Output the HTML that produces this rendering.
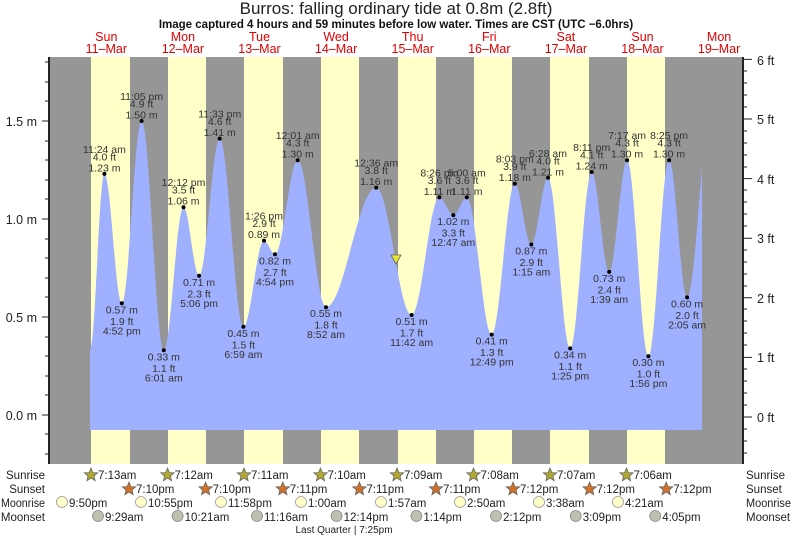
<!DOCTYPE html>
<html><head><meta charset="utf-8"><style>
html,body{margin:0;padding:0;background:#fff;}
svg{display:block;font-family:"Liberation Sans",sans-serif;}
.l{font-size:10.5px;fill:#333;text-anchor:middle;}
.d{font-size:12.5px;fill:#e00000;text-anchor:middle;}
.a{font-size:12.5px;fill:#222;}
.b{font-size:11.5px;fill:#222;}
</style></head><body>
<svg width="793" height="538" viewBox="0 0 793 538">
<text x="396" y="14" text-anchor="middle" font-size="17" fill="#222">Burros: falling  ordinary tide at 0.8m (2.8ft)</text>
<text x="396" y="28" text-anchor="middle" font-size="11.5" font-weight="bold" fill="#111">Image captured 4 hours and 59 minutes before low water. Times are CST (UTC −6.0hrs)</text>
<g>
<text class="d" x="106.3" y="41">Sun</text><text class="d" x="106.3" y="53">11–Mar</text>
<text class="d" x="182.9" y="41">Mon</text><text class="d" x="182.9" y="53">12–Mar</text>
<text class="d" x="259.5" y="41">Tue</text><text class="d" x="259.5" y="53">13–Mar</text>
<text class="d" x="336.1" y="41">Wed</text><text class="d" x="336.1" y="53">14–Mar</text>
<text class="d" x="412.7" y="41">Thu</text><text class="d" x="412.7" y="53">15–Mar</text>
<text class="d" x="489.3" y="41">Fri</text><text class="d" x="489.3" y="53">16–Mar</text>
<text class="d" x="565.9" y="41">Sat</text><text class="d" x="565.9" y="53">17–Mar</text>
<text class="d" x="642.5" y="41">Sun</text><text class="d" x="642.5" y="53">18–Mar</text>
<text class="d" x="719.1" y="41">Mon</text><text class="d" x="719.1" y="53">19–Mar</text>
</g>
<rect x="50" y="57" width="693" height="407" fill="#969696"/>
<g fill="#ffffc8">
<rect x="91" y="57" width="39" height="407"/>
<rect x="168" y="57" width="38" height="407"/>
<rect x="244" y="57" width="39" height="407"/>
<rect x="321" y="57" width="38" height="407"/>
<rect x="398" y="57" width="38" height="407"/>
<rect x="474" y="57" width="38" height="407"/>
<rect x="550" y="57" width="39" height="407"/>
<rect x="627" y="57" width="38" height="407"/>
</g>
<path fill="#9fb0ff" d="M90,430 L90,350 C95.2,350 99.2,173.9 104.4,173.9 C110.7,173.9 115.5,303.3 121.8,303.3 C128.9,303.3 134.5,121 141.6,121 C149.6,121 155.8,350.3 163.8,350.3 C170.9,350.3 176.4,207.2 183.5,207.2 C189.1,207.2 193.5,275.8 199.1,275.8 C206.5,275.8 212.3,138.6 219.7,138.6 C228.2,138.6 234.9,326.8 243.4,326.8 C250.8,326.8 256.6,240.6 264,240.6 C268,240.6 271,254.3 275,254.3 C283.2,254.3 289.5,160.2 297.7,160.2 C307.9,160.2 315.8,307.2 326,307.2 C344.1,307.2 358.1,187.6 376.2,187.6 C388.9,187.6 398.9,315 411.6,315 C421.6,315 429.4,197.4 439.4,197.4 C444.4,197.4 448.3,215.1 453.3,215.1 C458.2,215.1 461.9,197.4 466.8,197.4 C475.8,197.4 482.7,334.6 491.7,334.6 C500,334.6 506.5,183.7 514.8,183.7 C520.7,183.7 525.4,244.5 531.3,244.5 C537.3,244.5 542,177.8 548,177.8 C556,177.8 562.2,348.4 570.2,348.4 C577.9,348.4 584,172 591.7,172 C598,172 602.9,271.9 609.2,271.9 C615.6,271.9 620.7,160.2 627.1,160.2 C634.8,160.2 640.7,356.2 648.4,356.2 C655.9,356.2 661.6,160.2 669.1,160.2 C675.6,160.2 680.6,297.4 687.1,297.4 C693,297.4 699,200 702,168 L702,430 Z"/>
<polygon points="391,255 401,255 396,264" fill="#e8e830" stroke="#666" stroke-width="0.8"/>
<line x1="49" y1="57" x2="49" y2="464" stroke="#222" stroke-width="2"/>
<line x1="743" y1="57" x2="743" y2="464" stroke="#222" stroke-width="2"/>
<g stroke="#222" stroke-width="1">
<path d="M42,415H49M42,317H49M42,219H49M42,121H49"/>
<path d="M45,454H49M45,434H49M45,395H49M45,376H49M45,356H49M45,337H49M45,297H49M45,278H49M45,258H49M45,239H49M45,199H49M45,180H49M45,160H49M45,141H49M45,101H49M45,82H49M45,62H49"/>
<path d="M743,417H752M743,357.4H752M743,297.8H752M743,238.2H752M743,178.6H752M743,119H752M743,59.4H752"/>
<path d="M743,453H747M743,441H747M743,429H747M743,405H747M743,393H747M743,381H747M743,369H747M743,345H747M743,333H747M743,321H747M743,309H747M743,286H747M743,274H747M743,262H747M743,250H747M743,226H747M743,214H747M743,202H747M743,190H747M743,167H747M743,155H747M743,143H747M743,131H747M743,107H747M743,95H747M743,83H747M743,71H747"/>
</g>
<g class="a" text-anchor="end">
<text x="37" y="420">0.0 m</text><text x="37" y="322">0.5 m</text><text x="37" y="224">1.0 m</text><text x="37" y="126">1.5 m</text>
</g>
<g class="a">
<text x="757" y="422">0 ft</text><text x="757" y="362">1 ft</text><text x="757" y="303">2 ft</text><text x="757" y="243">3 ft</text><text x="757" y="184">4 ft</text><text x="757" y="124">5 ft</text><text x="757" y="65">6 ft</text>
</g>
<g fill="#000">
<circle cx="104.4" cy="173.9" r="2"/><circle cx="121.8" cy="303.3" r="2"/><circle cx="141.6" cy="121" r="2"/><circle cx="163.8" cy="350.3" r="2"/><circle cx="183.5" cy="207.2" r="2"/><circle cx="199.1" cy="275.8" r="2"/><circle cx="219.7" cy="138.6" r="2"/><circle cx="243.4" cy="326.8" r="2"/><circle cx="264" cy="240.6" r="2"/><circle cx="275" cy="254.3" r="2"/><circle cx="297.7" cy="160.2" r="2"/><circle cx="326" cy="307.2" r="2"/><circle cx="376.2" cy="187.6" r="2"/><circle cx="411.6" cy="315" r="2"/><circle cx="439.4" cy="197.4" r="2"/><circle cx="453.3" cy="215.1" r="2"/><circle cx="466.8" cy="197.4" r="2"/><circle cx="491.7" cy="334.6" r="2"/><circle cx="514.8" cy="183.7" r="2"/><circle cx="531.3" cy="244.5" r="2"/><circle cx="548" cy="177.8" r="2"/><circle cx="570.2" cy="348.4" r="2"/><circle cx="591.7" cy="172" r="2"/><circle cx="609.2" cy="271.9" r="2"/><circle cx="627.1" cy="160.2" r="2"/><circle cx="648.4" cy="356.2" r="2"/><circle cx="669.1" cy="160.2" r="2"/><circle cx="687.1" cy="297.4" r="2"/>
</g>
<g class="l">
<text x="104.4" y="152.9">11:24 am</text><text x="104.4" y="160.4">4.0 ft</text><text x="104.4" y="171.4">1.23 m</text>
<text x="141.6" y="100">11:05 pm</text><text x="141.6" y="107.5">4.9 ft</text><text x="141.6" y="118.5">1.50 m</text>
<text x="183.5" y="186.2">12:12 pm</text><text x="183.5" y="193.7">3.5 ft</text><text x="183.5" y="204.7">1.06 m</text>
<text x="219.7" y="117.6">11:33 pm</text><text x="219.7" y="125.1">4.6 ft</text><text x="219.7" y="136.1">1.41 m</text>
<text x="264" y="219.6">1:26 pm</text><text x="264" y="227.1">2.9 ft</text><text x="264" y="238.1">0.89 m</text>
<text x="297.7" y="139.2">12:01 am</text><text x="297.7" y="146.7">4.3 ft</text><text x="297.7" y="157.7">1.30 m</text>
<text x="376.2" y="166.6">12:36 am</text><text x="376.2" y="174.1">3.8 ft</text><text x="376.2" y="185.1">1.16 m</text>
<text x="439.4" y="176.4">8:26 pm</text><text x="439.4" y="183.9">3.6 ft</text><text x="439.4" y="194.9">1.11 m</text>
<text x="466.8" y="176.4">5:00 am</text><text x="466.8" y="183.9">3.6 ft</text><text x="466.8" y="194.9">1.11 m</text>
<text x="514.8" y="162.7">8:03 pm</text><text x="514.8" y="170.2">3.9 ft</text><text x="514.8" y="181.2">1.18 m</text>
<text x="548" y="156.8">6:28 am</text><text x="548" y="164.3">4.0 ft</text><text x="548" y="175.3">1.21 m</text>
<text x="591.7" y="151">8:11 pm</text><text x="591.7" y="158.5">4.1 ft</text><text x="591.7" y="169.5">1.24 m</text>
<text x="627.1" y="139.2">7:17 am</text><text x="627.1" y="146.7">4.3 ft</text><text x="627.1" y="157.7">1.30 m</text>
<text x="669.1" y="139.2">8:25 pm</text><text x="669.1" y="146.7">4.3 ft</text><text x="669.1" y="157.7">1.30 m</text>
<text x="121.8" y="313.3">0.57 m</text><text x="121.8" y="324.8">1.9 ft</text><text x="121.8" y="334.3">4:52 pm</text>
<text x="163.8" y="360.3">0.33 m</text><text x="163.8" y="371.8">1.1 ft</text><text x="163.8" y="381.3">6:01 am</text>
<text x="199.1" y="285.8">0.71 m</text><text x="199.1" y="297.3">2.3 ft</text><text x="199.1" y="306.8">5:06 pm</text>
<text x="243.4" y="336.8">0.45 m</text><text x="243.4" y="348.3">1.5 ft</text><text x="243.4" y="357.8">6:59 am</text>
<text x="275" y="264.3">0.82 m</text><text x="275" y="275.8">2.7 ft</text><text x="275" y="285.3">4:54 pm</text>
<text x="326" y="317.2">0.55 m</text><text x="326" y="328.7">1.8 ft</text><text x="326" y="338.2">8:52 am</text>
<text x="411.6" y="325">0.51 m</text><text x="411.6" y="336.5">1.7 ft</text><text x="411.6" y="346">11:42 am</text>
<text x="453.3" y="225.1">1.02 m</text><text x="453.3" y="236.6">3.3 ft</text><text x="453.3" y="246.1">12:47 am</text>
<text x="491.7" y="344.6">0.41 m</text><text x="491.7" y="356.1">1.3 ft</text><text x="491.7" y="365.6">12:49 pm</text>
<text x="531.3" y="254.5">0.87 m</text><text x="531.3" y="266">2.9 ft</text><text x="531.3" y="275.5">1:15 am</text>
<text x="570.2" y="358.4">0.34 m</text><text x="570.2" y="369.9">1.1 ft</text><text x="570.2" y="379.4">1:25 pm</text>
<text x="609.2" y="281.9">0.73 m</text><text x="609.2" y="293.4">2.4 ft</text><text x="609.2" y="302.9">1:39 am</text>
<text x="648.4" y="366.2">0.30 m</text><text x="648.4" y="377.7">1.0 ft</text><text x="648.4" y="387.2">1:56 pm</text>
<text x="687.1" y="307.4">0.60 m</text><text x="687.1" y="318.9">2.0 ft</text><text x="687.1" y="328.4">2:05 am</text>
</g>
<g class="b" text-anchor="end" font-size="12">
<text x="45" y="479">Sunrise</text><text x="45" y="493">Sunset</text><text x="45" y="507" textLength="44" lengthAdjust="spacingAndGlyphs">Moonrise</text><text x="45" y="521">Moonset</text>
</g>
<g class="b" font-size="12">
<text x="746" y="479">Sunrise</text><text x="746" y="493">Sunset</text><text x="746" y="507" textLength="45" lengthAdjust="spacingAndGlyphs">Moonrise</text><text x="746" y="521">Moonset</text>
</g>
<defs>
<polygon id="st" points="0,-7 1.9,-2.4 6.7,-2.2 3,0.9 4.1,5.7 0,3 -4.1,5.7 -3,0.9 -6.7,-2.2 -1.9,-2.4" stroke="#666" stroke-width="0.8"/>
</defs>
<g fill="#b0a830">
<use href="#st" x="91" y="475"/><use href="#st" x="167.5" y="475"/><use href="#st" x="244" y="475"/><use href="#st" x="320.5" y="475"/><use href="#st" x="397" y="475"/><use href="#st" x="473.5" y="475"/><use href="#st" x="550" y="475"/><use href="#st" x="626.5" y="475"/>
</g>
<g fill="#d07028">
<use href="#st" x="129" y="489"/><use href="#st" x="205.6" y="489"/><use href="#st" x="282.8" y="489"/><use href="#st" x="359.4" y="489"/><use href="#st" x="436" y="489"/><use href="#st" x="513" y="489"/><use href="#st" x="589.6" y="489"/><use href="#st" x="666.2" y="489"/>
</g>
<g class="b">
<text x="98" y="479">7:13am</text><text x="174.5" y="479">7:12am</text><text x="251" y="479">7:11am</text><text x="327.5" y="479">7:10am</text><text x="404" y="479">7:09am</text><text x="480.5" y="479">7:08am</text><text x="557" y="479">7:07am</text><text x="633.5" y="479">7:06am</text>
<text x="136" y="493">7:10pm</text><text x="212.6" y="493">7:10pm</text><text x="289.8" y="493">7:11pm</text><text x="366.4" y="493">7:11pm</text><text x="443" y="493">7:11pm</text><text x="520" y="493">7:12pm</text><text x="596.6" y="493">7:12pm</text><text x="673.2" y="493">7:12pm</text>
</g>
<g fill="#ffffc8" stroke="#999" stroke-width="0.8">
<circle cx="62" cy="502" r="5.5"/><circle cx="141" cy="502" r="5.5"/><circle cx="221" cy="502" r="5.5"/><circle cx="301" cy="502" r="5.5"/><circle cx="381" cy="502" r="5.5"/><circle cx="460" cy="502" r="5.5"/><circle cx="539" cy="502" r="5.5"/><circle cx="618" cy="502" r="5.5"/>
</g>
<g fill="#c0c0b0" stroke="#888" stroke-width="0.8">
<circle cx="98" cy="516" r="5.5"/><circle cx="177.6" cy="516" r="5.5"/><circle cx="257" cy="516" r="5.5"/><circle cx="336.6" cy="516" r="5.5"/><circle cx="416.4" cy="516" r="5.5"/><circle cx="496" cy="516" r="5.5"/><circle cx="575.7" cy="516" r="5.5"/><circle cx="655.2" cy="516" r="5.5"/>
</g>
<g class="b">
<text x="69" y="507">9:50pm</text><text x="148" y="507">10:55pm</text><text x="228" y="507">11:58pm</text><text x="308" y="507">1:00am</text><text x="388" y="507">1:57am</text><text x="467" y="507">2:50am</text><text x="546" y="507">3:38am</text><text x="625" y="507">4:21am</text>
<text x="105" y="521">9:29am</text><text x="184.6" y="521">10:21am</text><text x="264" y="521">11:16am</text><text x="343.6" y="521">12:14pm</text><text x="423.4" y="521">1:14pm</text><text x="503" y="521">2:12pm</text><text x="582.7" y="521">3:09pm</text><text x="662.2" y="521">4:05pm</text>
</g>
<text x="344" y="533" text-anchor="middle" font-size="10" fill="#222">Last Quarter | 7:25pm</text>
</svg>
</body></html>
